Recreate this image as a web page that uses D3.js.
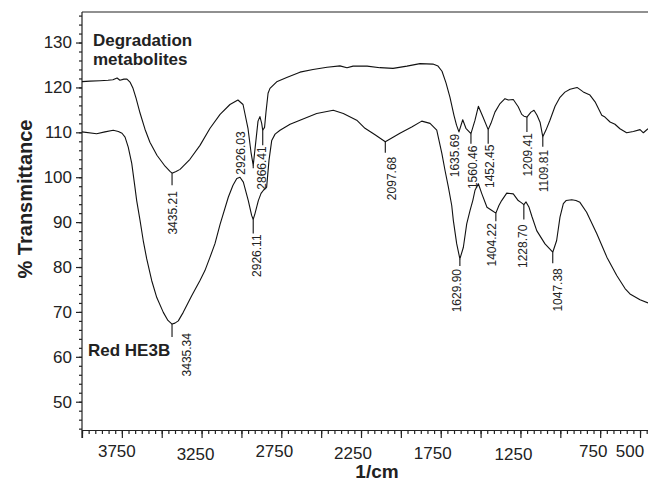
<!DOCTYPE html>
<html>
<head>
<meta charset="utf-8">
<script src="https://cdn.jsdelivr.net/npm/d3@7"></script>
<style>
  body { margin: 0; background: #fff; }
  svg { display: block; }
  text { font-family: "Liberation Sans", Arial, sans-serif; fill: #222; }
</style>
</head>
<body>
<svg id="ftir_svg"></svg>
<script>
// Spectrum of the degradation metabolites: [wavenumber 1/cm, % transmittance]
const metabolitesSpectrum = [
  [4000, 121.3], [3950, 121.4], [3887, 121.5], [3837, 121.6], [3806, 121.7], [3780, 122.1],
  [3762, 121.6], [3737, 121.85], [3718, 121.85], [3699, 121.2], [3680, 119.8], [3661, 117.6],
  [3636, 114.3], [3605, 110.7], [3574, 107.8], [3530, 104.9], [3479, 102.45], [3448, 101.3],
  [3435.21, 100.9], [3410, 101.3], [3385, 101.75], [3323, 104.0], [3260, 107.1], [3197, 110.9],
  [3134, 114.0], [3072, 116.2], [3022, 117.2], [2990, 116.2], [2959, 110.9], [2940, 105.55],
  [2926.03, 102.65], [2909, 108.2], [2896, 112.5], [2884, 113.5], [2873, 112.0], [2866.41, 110.45],
  [2855, 111.1], [2846, 114.5], [2833, 118.7], [2821, 119.8], [2779, 121.25], [2716, 122.2],
  [2633, 123.4], [2551, 124.0], [2463, 124.5], [2382, 124.8], [2338, 124.4], [2300, 124.75],
  [2212, 124.75], [2131, 124.4], [2049, 124.25], [1962, 124.75], [1880, 125.3], [1799, 125.2],
  [1767, 124.75], [1742, 123.6], [1717, 121.0], [1692, 117.8], [1667, 113.8], [1651, 111.6],
  [1635.69, 110.1], [1612, 112.8], [1592, 110.9], [1560.46, 109.7], [1535, 112.7], [1514, 115.8],
  [1485, 113.4], [1452.45, 110.6], [1435, 112.0], [1410, 114.5], [1378, 116.4], [1347, 117.5],
  [1326, 117.2], [1295, 117.3], [1264, 115.7], [1242, 114.0], [1228, 113.6], [1209.41, 113.4],
  [1184, 114.5], [1165, 114.9], [1146, 113.8], [1127, 112.25], [1109.81, 109.0], [1090, 110.5],
  [1065, 112.7], [1033, 115.8], [1002, 117.8], [971, 118.95], [939, 119.6], [895, 120.0],
  [856, 119.0], [814, 118.3], [782, 116.8], [740, 113.8], [720, 113.4], [688, 112.3],
  [657, 111.8], [626, 110.8], [584, 109.9], [542, 110.2], [500, 110.6], [479, 109.9], [450, 110.8]
];

// Spectrum of the dye Red HE3B
const dyeSpectrum = [
  [4000, 110.1], [3908, 109.7], [3856, 110.1], [3804, 110.45], [3772, 110.2], [3749, 109.8],
  [3730, 108.95], [3710, 106.7], [3688, 103.1], [3668, 97.8], [3657, 94.8], [3636, 90.4],
  [3616, 85.9], [3594, 81.8], [3563, 77.0], [3531, 73.2], [3490, 69.9], [3461, 68.1],
  [3435.34, 67.3], [3417, 67.5], [3396, 68.0], [3365, 69.9], [3312, 73.6], [3260, 77.0],
  [3229, 79.2], [3197, 82.2], [3166, 85.2], [3134, 89.5], [3082, 95.6], [3053, 98.2],
  [3029, 99.7], [3009, 100.0], [2988, 98.9], [2957, 94.8], [2936, 91.5], [2926.11, 90.6],
  [2915, 91.9], [2894, 94.8], [2877, 96.4], [2862, 97.1], [2842, 97.8], [2827, 103.8],
  [2810, 108.2], [2789, 109.6], [2758, 110.45], [2695, 111.8], [2633, 112.7], [2528, 114.2],
  [2424, 114.9], [2361, 114.2], [2277, 112.7], [2225, 110.9], [2162, 109.45], [2097.68, 107.9],
  [2049, 108.9], [2006, 109.8], [1932, 111.2], [1869, 112.5], [1817, 112.0], [1775, 110.5],
  [1743, 105.3], [1723, 101.5], [1702, 97.8], [1681, 93.7], [1671, 90.4], [1650, 85.2],
  [1629.90, 81.8], [1608, 84.4], [1587, 89.6], [1566, 92.6], [1549, 94.8], [1535, 97.1],
  [1514, 98.55], [1492, 96.3], [1460, 93.3], [1429, 92.6], [1404.22, 92.0], [1385, 93.7],
  [1368, 94.8], [1336, 96.45], [1295, 96.3], [1264, 94.8], [1247, 94.4], [1228.70, 93.9],
  [1215, 94.5], [1196, 93.3], [1178, 91.25], [1148, 88.1], [1096, 85.15], [1047.38, 83.3],
  [1023, 85.9], [1002, 91.1], [981, 94.1], [964, 94.8], [928, 95.0], [902, 94.8],
  [877, 94.4], [835, 92.2], [771, 87.4], [708, 82.2], [646, 78.1], [594, 75.2],
  [563, 74.0], [500, 72.7], [450, 72.0]
];

// Peaks picked on each spectrum (1/cm)
const metabolitesPeaks = [3435.21, 2926.03, 2866.41, 1635.69, 1560.46, 1452.45, 1209.41, 1109.81];
const dyePeaks = [3435.34, 2926.11, 2097.68, 1629.90, 1404.22, 1228.70, 1047.38];

// Axis ticks
const xTickLabels = [3750, 3250, 2750, 2250, 1750, 1250, 750, 500];
const yTickLabels = [50, 60, 70, 80, 90, 100, 110, 120, 130];

const width = 648, height = 483;
const margin = { top: 12, right: 0, bottom: 53, left: 82 };

const svg = d3.select("#ftir_svg").attr("width", width).attr("height", height);

const x = d3.scaleLinear().domain([4000, 450]).range([margin.left, width - margin.right]);
const y = d3.scaleLinear().domain([43.7, 136.8]).range([height - margin.bottom, margin.top]);

// minor ticks
const xMinor = d3.range(4000, 449, -250 / 6);
const xMajor = d3.range(4000, 449, -250);
const yMinor = d3.range(44, 137, 2);

const axisColor = "#222";

// X axis: minor + major ticks (outward, no labels here)
const gx = svg.append("g").attr("transform", `translate(0,${y.range()[0]})`);
gx.call(d3.axisBottom(x).tickValues(xMinor).tickSize(4).tickFormat("").tickSizeOuter(0));
gx.append("g").call(d3.axisBottom(x).tickValues(xMajor).tickSize(8).tickFormat("").tickSizeOuter(0));
gx.selectAll("path, line").attr("stroke", axisColor).attr("stroke-width", 1.2);

// X tick labels: the source software sets them a bit left of the ticks, with a small stagger
const xLabelShift = { 3750: [-5, 0], 3250: [-6, 3], 2750: [-7, 0], 2250: [-8, 2], 1750: [-8, 2], 1250: [-7, 3], 750: [-7, 0], 500: [-10, 0] };
svg.append("g").selectAll("text")
  .data(xTickLabels)
  .join("text")
  .attr("x", d => x(d) + xLabelShift[d][0])
  .attr("y", 457)
  .attr("dy", d => xLabelShift[d][1])
  .attr("text-anchor", "middle")
  .style("font-size", "17px")
  .text(d => d);

// Y axis
const gy = svg.append("g").attr("transform", `translate(${margin.left},0)`);
gy.call(d3.axisLeft(y).tickValues(yMinor).tickSize(3).tickFormat("").tickSizeOuter(0));
gy.append("g").call(d3.axisLeft(y).tickValues(yTickLabels).tickSize(6).tickPadding(4).tickSizeOuter(0))
  .selectAll("text").style("font-size", "17px").attr("fill", "#222")
  .style("font-family", "'Liberation Sans', Arial, sans-serif");
gy.selectAll("path, line").attr("stroke", axisColor).attr("stroke-width", 1.2);
gy.selectAll(".domain").remove();

// frame: left and top lines
svg.append("line")
  .attr("x1", margin.left).attr("x2", margin.left)
  .attr("y1", margin.top).attr("y2", y.range()[0] + 8)
  .attr("stroke", axisColor).attr("stroke-width", 1.2);
svg.append("line")
  .attr("x1", margin.left).attr("x2", width)
  .attr("y1", margin.top).attr("y2", margin.top)
  .attr("stroke", axisColor).attr("stroke-width", 1.2);

// Axis titles
svg.append("text")
  .attr("transform", `translate(32,${(y(136.8) + y(43.7)) / 2 - 22}) rotate(-90)`)
  .attr("text-anchor", "middle")
  .style("font-size", "20px").style("font-weight", "bold")
  .text("% Transmittance");

svg.append("text")
  .attr("x", 377).attr("y", 478)
  .attr("text-anchor", "middle")
  .style("font-size", "19px").style("font-weight", "bold")
  .text("1/cm");

// Spectra
const line = d3.line().x(d => x(d[0])).y(d => y(d[1]));
[metabolitesSpectrum, dyeSpectrum].forEach(s => {
  svg.append("path")
    .datum(s)
    .attr("d", line)
    .attr("fill", "none")
    .attr("stroke", "#111")
    .attr("stroke-width", 1.1)
    .attr("stroke-linejoin", "round");
});

// Series names
svg.append("text").attr("x", 93).attr("y", 46)
  .style("font-size", "17px").style("font-weight", "bold").text("Degradation");
svg.append("text").attr("x", 93).attr("y", 65)
  .style("font-size", "17px").style("font-weight", "bold").text("metabolites");
svg.append("text").attr("x", 88).attr("y", 356)
  .style("font-size", "17px").style("font-weight", "bold").text("Red HE3B");

// Peak markers: tick under the minimum and the value written vertically
// len = tick length, dx = text offset sideways, gap = text start below tick end
const peakLayout = {
  "3435.21": { len: 12, dx: 1, gap: 6 },
  "2926.03": { len: 3, dx: -12, gap: -37 },
  "2866.41": { len: 15, dx: -1, gap: 1 },
  "1635.69": { len: 0, dx: -4, gap: 2 },
  "1560.46": { len: 10, dx: 1.5, gap: 2 },
  "1452.45": { len: 14, dx: 2, gap: 1 },
  "1209.41": { len: 15, dx: 1, gap: 1 },
  "1109.81": { len: 10, dx: 1, gap: 3 },
  "3435.34": { len: 13, dx: 15, gap: -4 },
  "2926.11": { len: 14, dx: 4, gap: 1 },
  "2097.68": { len: 11, dx: 6, gap: 4 },
  "1629.90": { len: 7, dx: -3, gap: 3 },
  "1404.22": { len: 8, dx: -4.5, gap: 2 },
  "1228.70": { len: 15, dx: -1.5, gap: 5 },
  "1047.38": { len: 11, dx: 5.5, gap: 5 }
};

function drawPeaks(spectrum, peaks) {
  const g = svg.append("g");
  peaks.forEach(p => {
    const pt = spectrum.find(d => d[0] === p);
    const lay = peakLayout[p.toFixed(2)];
    const px = x(p), py = y(pt[1]);
    if (lay.len > 0) {
      g.append("line")
        .attr("x1", px).attr("x2", px)
        .attr("y1", py).attr("y2", py + lay.len)
        .attr("stroke", "#111").attr("stroke-width", 1.1);
    }
    g.append("text")
      .attr("transform", `translate(${px + lay.dx},${py + lay.len + lay.gap}) rotate(-90)`)
      .attr("text-anchor", "end")
      .attr("dy", "0.35em")
      .style("font-size", "12px")
      .text(p.toFixed(2));
  });
}
drawPeaks(metabolitesSpectrum, metabolitesPeaks);
drawPeaks(dyeSpectrum, dyePeaks);
</script>
</body>
</html>
